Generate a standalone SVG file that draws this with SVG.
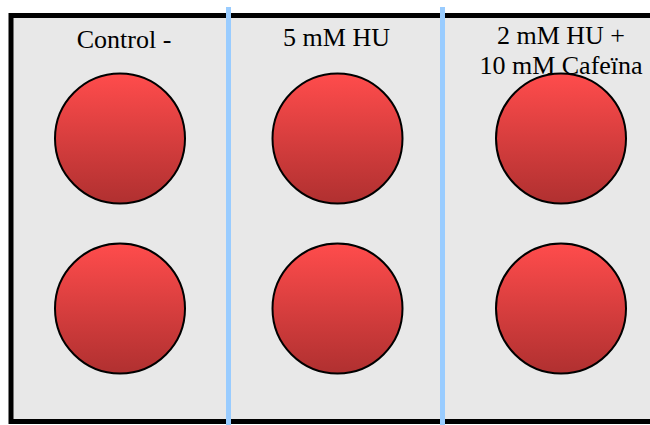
<svg xmlns="http://www.w3.org/2000/svg" width="650" height="425" viewBox="0 0 650 425">
<defs>
<linearGradient id="red" x1="0" y1="0" x2="0" y2="1">
<stop offset="0" stop-color="#ff4c4c"/>
<stop offset="1" stop-color="#b03030"/>
</linearGradient>
<style>
.dot{fill:url(#red);stroke:#000;stroke-width:2}
.lbl{font-family:"Liberation Serif",serif;font-size:26px;fill:#000;text-anchor:middle}
.sep{stroke:#99ccff;stroke-width:5}
</style>
</defs>
<rect x="0" y="0" width="650" height="425" fill="#fff"/>
<rect id="plate" x="11" y="15.5" width="660" height="406" fill="#e8e8e8" stroke="#000" stroke-width="5"/>
<g id="separators">
<line class="sep" x1="228.5" y1="7" x2="228.5" y2="425"/>
<line class="sep" x1="442.5" y1="7" x2="442.5" y2="425"/>
</g>
<g id="col-control">
<text class="lbl" x="124" y="48">Control -</text>
<circle class="dot" cx="120" cy="138.5" r="65"/>
<circle class="dot" cx="120" cy="308.5" r="65"/>
</g>
<g id="col-hu5">
<text class="lbl" x="336.5" y="46">5 mM HU</text>
<circle class="dot" cx="337.5" cy="138.5" r="65"/>
<circle class="dot" cx="337.5" cy="308.5" r="65"/>
</g>
<g id="col-hu2-caf">
<circle class="dot" cx="561" cy="138.5" r="65"/>
<circle class="dot" cx="561" cy="308.5" r="65"/>
<text class="lbl" x="561" y="44">2 mM HU +</text>
<text class="lbl" x="561" y="74">10 mM Cafeïna</text>
</g>
</svg>
